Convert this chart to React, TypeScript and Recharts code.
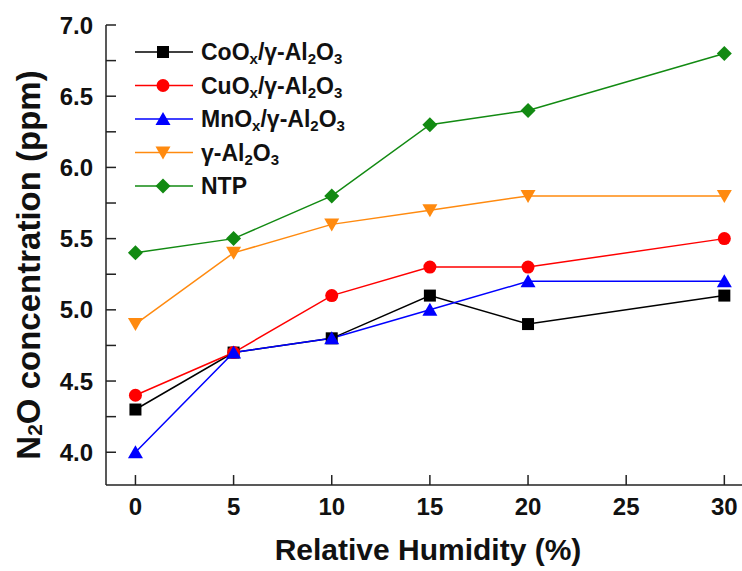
import React from "react";
import { LineChart, Line, XAxis, YAxis, Legend, Label, ReferenceLine } from "recharts";

const humidity = [0, 5, 10, 15, 20, 30];
const coOx = [4.3, 4.7, 4.8, 5.1, 4.9, 5.1];
const cuOx = [4.4, 4.7, 5.1, 5.3, 5.3, 5.5];
const mnOx = [4.0, 4.7, 4.8, 5.0, 5.2, 5.2];
const alumina = [4.9, 5.4, 5.6, 5.7, 5.8, 5.8];
const ntp = [5.4, 5.5, 5.8, 6.3, 6.4, 6.8];

const xTicks = [0, 5, 10, 15, 20, 25, 30];
const yTicks = [4, 4.25, 4.5, 4.75, 5, 5.25, 5.5, 5.75, 6, 6.25, 6.5, 6.75, 7];

const X_MIN = -1.5;
const X_MAX = 30.9;
const Y_MIN = 3.77;
const Y_MAX = 7;

const data = humidity.map((h, i) => ({
  h,
  co: coOx[i],
  cu: cuOx[i],
  mn: mnOx[i],
  al: alumina[i],
  ntp: ntp[i],
}));

type Shape = "square" | "circle" | "up" | "down" | "diamond";

const series: { key: string; color: string; shape: Shape; label: string[][] }[] = [
  { key: "co", color: "#000000", shape: "square", label: [["CoO"], ["x", "s"], ["/γ-Al"], ["2", "s"], ["O"], ["3", "s"]] },
  { key: "cu", color: "#ff0000", shape: "circle", label: [["CuO"], ["x", "s"], ["/γ-Al"], ["2", "s"], ["O"], ["3", "s"]] },
  { key: "mn", color: "#0000ff", shape: "up", label: [["MnO"], ["x", "s"], ["/γ-Al"], ["2", "s"], ["O"], ["3", "s"]] },
  { key: "al", color: "#ff8a0f", shape: "down", label: [["γ-Al"], ["2", "s"], ["O"], ["3", "s"]] },
  { key: "ntp", color: "#128a12", shape: "diamond", label: [["NTP"]] },
];

const font = "'Liberation Sans', Arial, sans-serif";
const ink = "#111";
const axisColor = "#222";

function marker(shape: Shape, color: string, cx: number, cy: number, key?: any) {
  if (shape === "square") return <rect key={key} x={cx - 6} y={cy - 6} width={12} height={12} fill={color} />;
  if (shape === "circle") return <circle key={key} cx={cx} cy={cy} r={6.5} fill={color} />;
  if (shape === "up")
    return <polygon key={key} points={`${cx},${cy - 7} ${cx + 7.5},${cy + 6} ${cx - 7.5},${cy + 6}`} fill={color} />;
  if (shape === "down")
    return <polygon key={key} points={`${cx},${cy + 7} ${cx + 7.5},${cy - 6} ${cx - 7.5},${cy - 6}`} fill={color} />;
  return <polygon key={key} points={`${cx},${cy - 7.5} ${cx + 7.5},${cy} ${cx},${cy + 7.5} ${cx - 7.5},${cy}`} fill={color} />;
}

function renderRich(parts: string[][]) {
  let shifted = false;
  return parts.map((p, i) => {
    const sub = p[1] === "s";
    let dy = 0;
    if (sub && !shifted) { dy = 4; shifted = true; }
    else if (!sub && shifted) { dy = -4; shifted = false; }
    return (
      <tspan key={i} dy={dy} fontSize={sub ? 15 : undefined}>
        {p[0]}
      </tspan>
    );
  });
}

function LegendBox() {
  return (
    <svg width={250} height={180}>
      {series.map((s, i) => {
        const y = 22 + i * 33.5;
        return (
          <g key={s.key}>
            <line x1={5} x2={63} y1={y} y2={y} stroke={s.color} strokeWidth={1.5} />
            {marker(s.shape, s.color, 33, y)}
            <text x={71} y={y + 8} fontFamily={font} fontWeight="bold" fontSize={23} fill={ink}>
              {renderRich(s.label)}
            </text>
          </g>
        );
      })}
    </svg>
  );
}

function YTick(props: any) {
  const { x, y, payload } = props;
  const v = payload.value as number;
  const major = Math.abs((v * 2) % 1) < 1e-9;
  if (!major) return <g />;
  return (
    <text x={x} y={y} dy={8.5} textAnchor="end" fontFamily={font} fontWeight="bold" fontSize={24} fill={ink}>
      {v.toFixed(1)}
    </text>
  );
}

function XTick(props: any) {
  const { x, y, payload } = props;
  return (
    <text x={x} y={y} dy={17} textAnchor="middle" fontFamily={font} fontWeight="bold" fontSize={24} fill={ink}>
      {payload.value}
    </text>
  );
}

function YTitle(props: any) {
  const vb = props.viewBox;
  const cx = vb.x + 28;
  const cy = vb.y + vb.height / 2 + 10;
  return (
    <text
      x={cx}
      y={cy}
      transform={`rotate(-90 ${cx} ${cy})`}
      textAnchor="middle"
      dominantBaseline="central"
      fontFamily={font}
      fontWeight="bold"
      fontSize={33}
      fill={ink}
    >
      <tspan>N</tspan>
      <tspan dy={6} fontSize={21}>2</tspan>
      <tspan dy={-6}>O concentration (ppm)</tspan>
    </text>
  );
}

function XTitle(props: any) {
  const vb = props.viewBox;
  return (
    <text
      x={vb.x + vb.width / 2 + 4}
      y={vb.y + 75}
      textAnchor="middle"
      fontFamily={font}
      fontWeight="bold"
      fontSize={30}
      fill={ink}
    >
      Relative Humidity (%)
    </text>
  );
}

// inward tick marks, about 10px long
const yTickLen = 0.51;
const xTickLen = 0.07;

export default function App() {
  return (
    <div style={{ position: "absolute", left: 0, top: 0, background: "#fff" }}>
      <LineChart width={742} height={571} data={data} margin={{ top: 25, right: 0, bottom: 0, left: 0 }}>
        <XAxis
          dataKey="h"
          type="number"
          domain={[X_MIN, X_MAX]}
          ticks={xTicks}
          height={86}
          tickSize={0}
          tickMargin={13}
          tickLine={false}
          tick={XTick}
          stroke={axisColor}
          strokeWidth={1.5}
          allowDataOverflow
        >
          <Label content={XTitle} />
        </XAxis>
        <XAxis
          xAxisId="top"
          orientation="top"
          dataKey="h"
          type="number"
          domain={[X_MIN, X_MAX]}
          height={0}
          tick={false}
          tickLine={false}
          stroke={axisColor}
          strokeWidth={1.5}
        />
        <YAxis
          type="number"
          domain={[Y_MIN, Y_MAX]}
          ticks={yTicks}
          width={106}
          tickSize={0}
          tickMargin={13}
          tickLine={false}
          tick={YTick}
          stroke={axisColor}
          strokeWidth={1.5}
          allowDataOverflow
        >
          <Label content={YTitle} />
        </YAxis>
        {yTicks.map((v) => (
          <ReferenceLine
            key={`yt${v}`}
            segment={[{ x: X_MIN, y: v }, { x: X_MIN + yTickLen, y: v }]}
            stroke={axisColor}
            strokeWidth={1.5}
            ifOverflow="visible"
          />
        ))}
        {xTicks.map((v) => (
          <ReferenceLine
            key={`xt${v}`}
            segment={[{ x: v, y: Y_MIN }, { x: v, y: Y_MIN + xTickLen }]}
            stroke={axisColor}
            strokeWidth={1.5}
            ifOverflow="visible"
          />
        ))}
        <Legend
          layout="horizontal"
          verticalAlign="middle"
          align="center"
          content={() => <LegendBox />}
          wrapperStyle={{ position: "absolute", left: 130, top: 30, width: 250 }}
        />
        {series.map((s) => (
          <Line
            key={s.key}
            dataKey={s.key}
            stroke={s.color}
            strokeWidth={1.5}
            isAnimationActive={false}
            dot={(p: any) => marker(s.shape, s.color, p.cx, p.cy, p.index)}
            activeDot={false}
          />
        ))}
      </LineChart>
    </div>
  );
}
